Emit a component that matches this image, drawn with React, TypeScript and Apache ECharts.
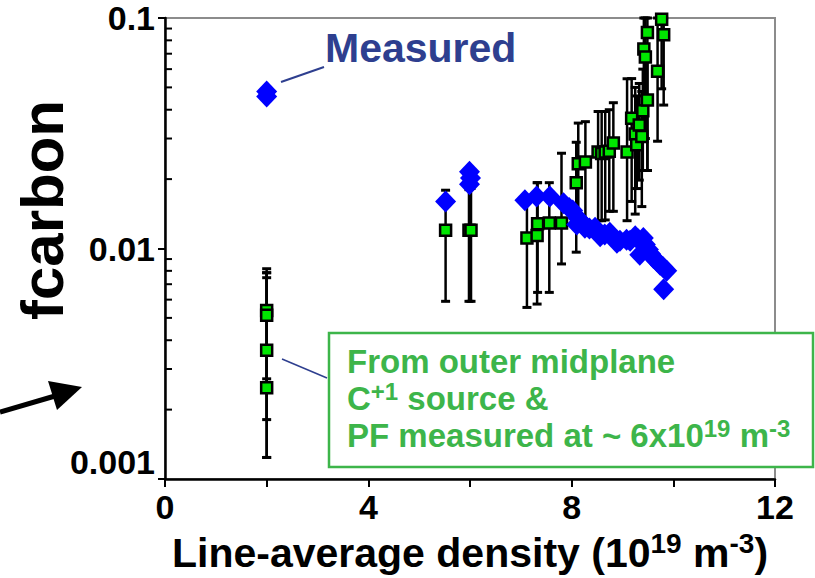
import React, { useEffect, useRef } from "react";
import * as echarts from "echarts";

// Measured (blue diamonds)
const measuredX = [2.0, 2.0, 5.52, 5.99, 6.01, 5.99, 7.08, 7.31, 7.57, 7.84, 7.95, 8.02, 8.10, 8.13, 8.20, 8.26, 8.35, 8.46, 8.56, 8.65, 8.75, 8.89, 8.95, 9.08, 9.15, 9.25, 9.30, 9.34, 9.41, 9.45, 9.51, 9.55, 9.61, 9.68, 9.74, 9.80, 9.87, 9.81];
const measuredY = [0.048, 0.0457, 0.0160, 0.0215, 0.0202, 0.0190, 0.0162, 0.0168, 0.0168, 0.0157, 0.0150, 0.0146, 0.0127, 0.0135, 0.0130, 0.0123, 0.0122, 0.0123, 0.0113, 0.0115, 0.0117, 0.0106, 0.0108, 0.0109, 0.0108, 0.0113, 0.0110, 0.0094, 0.0111, 0.0104, 0.00989, 0.0095, 0.0091, 0.0088, 0.0085, 0.0083, 0.0080, 0.00665];

// From outer midplane C+1 source (green squares with error bars)
const modelX = [2.0, 2.0, 2.0, 2.0, 5.52, 5.98, 6.02, 7.12, 7.32, 7.33, 7.56, 7.80, 8.09, 8.13, 8.27, 8.52, 8.59, 8.66, 8.74, 8.82, 9.09, 9.18, 9.25, 9.28, 9.33, 9.38, 9.40, 9.42, 9.45, 9.49, 9.49, 9.69, 9.77, 9.81];
const modelY = [0.00538, 0.00513, 0.00362, 0.00249, 0.0120, 0.0120, 0.0120, 0.0111, 0.0114, 0.0128, 0.0129, 0.0129, 0.0193, 0.0233, 0.0237, 0.0262, 0.0258, 0.0262, 0.0264, 0.0287, 0.0262, 0.0367, 0.0314, 0.0282, 0.0343, 0.0306, 0.0396, 0.0733, 0.0678, 0.0441, 0.0865, 0.0588, 0.0987, 0.0845];
const modelLo = [0.00272, 0.00181, 0.00124, 0.00124, 0.0059, 0.0059, 0.0059, 0.00555, 0.00574, 0.00645, 0.00645, 0.00857, 0.00964, 0.0125, 0.0125, 0.0132, 0.0132, 0.0133, 0.0145, 0.0145, 0.0132, 0.0160, 0.0141, 0.0182, 0.0198, 0.0152, 0.0218, 0.0300, 0.0300, 0.0218, 0.0218, 0.0292, 0.0493, 0.0419];
const modelHi = [0.00817, 0.00785, 0.00747, 0.00785, 0.0179, 0.0180, 0.0182, 0.0165, 0.0193, 0.0193, 0.0193, 0.0259, 0.0289, 0.0350, 0.0355, 0.0393, 0.0393, 0.0393, 0.0400, 0.0429, 0.0545, 0.0546, 0.0500, 0.0459, 0.0520, 0.0480, 0.0600, 0.1, 0.1, 0.0700, 0.1, 0.1, 0.1, 0.1];

// Axis ticks
const xTickLabels = ["0", "4", "8", "12"];
const yTickLabels: Record<string, string> = { "-3": "0.001", "-2": "0.01", "-1": "0.1" };
const yMinorTicks = [0.002, 0.003, 0.004, 0.005, 0.006, 0.007, 0.008, 0.009, 0.02, 0.03, 0.04, 0.05, 0.06, 0.07, 0.08, 0.09];

const FONT = "'Liberation Sans', Arial, Helvetica, sans-serif";
const NAVY = "#2e3f8f";
const GREEN = "#3db54a";

export default function App() {
  const ref = useRef<HTMLDivElement>(null);

  useEffect(() => {
    if (!ref.current) return;
    const chart = echarts.init(ref.current, undefined, { renderer: "svg" });

    const supRich = {
      t: { fontFamily: FONT, fontWeight: "bold", fontSize: 33, fill: GREEN, verticalAlign: "bottom", lineHeight: 36 },
      s: { fontFamily: FONT, fontWeight: "bold", fontSize: 24, fill: GREEN, verticalAlign: "top", lineHeight: 30 },
    };

    const option: any = {
      animation: false,
      backgroundColor: "#fff",
      grid: {
        left: 165,
        right: 40,
        top: 18,
        bottom: 96,
        show: true,
        borderColor: "#8c8c8c",
        borderWidth: 2,
        backgroundColor: "transparent",
      },
      xAxis: {
        type: "value",
        min: 0,
        max: 12,
        interval: 2,
        axisLine: { show: true, lineStyle: { color: "#000", width: 2.5 } },
        axisTick: { show: true, length: 8, lineStyle: { color: "#000", width: 2 } },
        splitLine: { show: false },
        axisLabel: {
          color: "#000",
          fontFamily: FONT,
          fontWeight: "bold",
          fontSize: 34,
          margin: 11,
          formatter: (v: number) => (xTickLabels.includes(String(v)) ? String(v) : ""),
        },
        name: "{t|Line-average density (10}{s|19}{t| m}{s|-3}{t|)}",
        nameLocation: "middle",
        nameGap: 50,
        nameTextStyle: {
          rich: {
            t: { fontFamily: FONT, fontWeight: "bold", fontSize: 41, color: "#000", verticalAlign: "bottom", lineHeight: 44 },
            s: { fontFamily: FONT, fontWeight: "bold", fontSize: 28, color: "#000", verticalAlign: "top", lineHeight: 40 },
          },
        },
      },
      yAxis: {
        type: "log",
        logBase: 10,
        min: 0.001,
        max: 0.1,
        axisLine: { show: true, onZero: false, lineStyle: { color: "#000", width: 2.5 } },
        axisTick: { show: true, length: 7, lineStyle: { color: "#000", width: 2 } },
        splitLine: { show: false },
        minorTick: { show: false },
        axisLabel: {
          color: "#000",
          fontFamily: FONT,
          fontWeight: "bold",
          fontSize: 34,
          margin: 10,
          verticalAlignMinLabel: "bottom",
          formatter: (v: number) => yTickLabels[String(Math.round(Math.log10(v)))] || "",
        },
      },
      series: [
        {
          type: "custom",
          name: "minorTicks",
          data: yMinorTicks.map((v) => [0, v]),
          encode: { x: 0, y: 1 },
          clip: false,
          silent: true,
          z: 5,
          renderItem: (_p: any, api: any) => {
            const p = api.coord([api.value(0), api.value(1)]);
            return {
              type: "line",
              shape: { x1: p[0], y1: p[1], x2: p[0] + 7, y2: p[1] },
              style: { stroke: "#000", lineWidth: 2 },
            };
          },
        },
        {
          type: "custom",
          name: "errorBars",
          data: modelX.map((x, i) => [x, modelLo[i], modelHi[i]]),
          encode: { x: 0, y: [1, 2] },
          clip: false,
          silent: true,
          z: 2,
          renderItem: (_p: any, api: any) => {
            const x = api.value(0);
            const a = api.coord([x, api.value(1)]);
            const b = api.coord([x, api.value(2)]);
            const hw = 4.5;
            return {
              type: "group",
              children: [
                { type: "line", shape: { x1: a[0], y1: a[1], x2: b[0], y2: b[1] }, style: { stroke: "#000", lineWidth: 2.5 } },
                { type: "line", shape: { x1: a[0] - hw, y1: a[1], x2: a[0] + hw, y2: a[1] }, style: { stroke: "#000", lineWidth: 3 } },
                { type: "line", shape: { x1: b[0] - hw, y1: b[1], x2: b[0] + hw, y2: b[1] }, style: { stroke: "#000", lineWidth: 3 } },
              ],
            };
          },
        },
        {
          type: "scatter",
          name: "From outer midplane",
          data: modelX.map((x, i) => [x, modelY[i]]),
          symbol: "rect",
          symbolSize: 11,
          clip: false,
          z: 3,
          itemStyle: { color: "#00e600", borderColor: "#000", borderWidth: 2.5, opacity: 1 },
        },
        {
          type: "scatter",
          name: "Measured",
          data: measuredX.map((x, i) => [x, measuredY[i]]),
          symbol: "diamond",
          symbolSize: [21, 22],
          clip: false,
          z: 4,
          itemStyle: { color: "#0000ff", opacity: 1 },
        },
      ],
      graphic: [
        {
          type: "text",
          x: 42,
          y: 210,
          rotation: Math.PI / 2,
          style: {
            text: "fcarbon",
            fontFamily: FONT,
            fontWeight: "bold",
            fontSize: 60,
            fill: "#000",
            textAlign: "center",
            textVerticalAlign: "middle",
          },
        },
        {
          type: "line",
          shape: { x1: 0, y1: 412, x2: 55, y2: 396 },
          style: { stroke: "#000", lineWidth: 5 },
        },
        {
          type: "polygon",
          shape: { points: [[82, 387], [48, 381], [57, 410]] },
          style: { fill: "#000" },
        },
        {
          type: "text",
          x: 325,
          y: 48,
          style: {
            text: "Measured",
            fontFamily: FONT,
            fontWeight: "bold",
            fontSize: 41,
            fill: NAVY,
            textAlign: "left",
            textVerticalAlign: "middle",
          },
        },
        {
          type: "line",
          shape: { x1: 281, y1: 82, x2: 324, y2: 67 },
          style: { stroke: NAVY, lineWidth: 2 },
        },
        {
          type: "line",
          shape: { x1: 282, y1: 359, x2: 327, y2: 378 },
          style: { stroke: NAVY, lineWidth: 1.5 },
        },
        {
          type: "rect",
          shape: { x: 329, y: 333, width: 484, height: 134 },
          style: { fill: "#fff", stroke: GREEN, lineWidth: 2.5 },
          z: 100,
        },
        {
          type: "text",
          x: 347,
          y: 361,
          z: 101,
          style: {
            text: "From outer midplane",
            fontFamily: FONT,
            fontWeight: "bold",
            fontSize: 33,
            fill: GREEN,
            textVerticalAlign: "middle",
          },
        },
        {
          type: "text",
          x: 347,
          y: 397,
          z: 101,
          style: {
            text: "{t|C}{s|+1}{t| source &}",
            textVerticalAlign: "middle",
            rich: supRich,
          },
        },
        {
          type: "text",
          x: 347,
          y: 434,
          z: 101,
          style: {
            text: "{t|PF measured at ~ 6x10}{s|19}{t| m}{s|-3}",
            textVerticalAlign: "middle",
            rich: supRich,
          },
        },
      ],
    };

    chart.setOption(option);
    return () => chart.dispose();
  }, []);

  return (
    <div
      ref={ref}
      style={{ position: "fixed", left: 0, top: 0, width: 815, height: 578, background: "#fff" }}
    />
  );
}
